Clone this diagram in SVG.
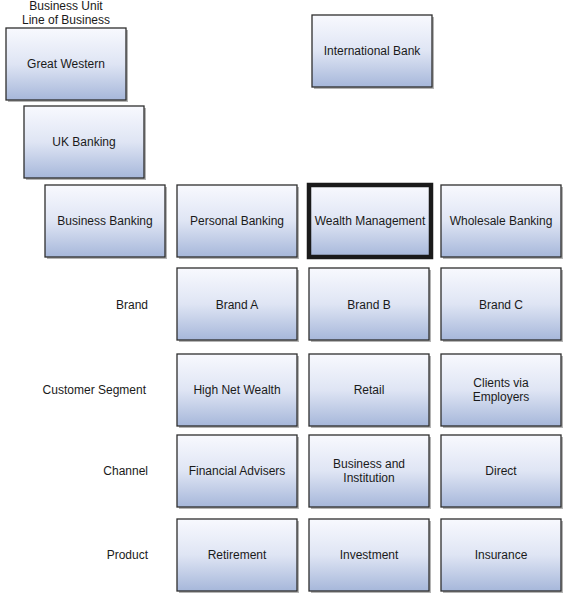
<svg xmlns="http://www.w3.org/2000/svg" width="566" height="596" viewBox="0 0 566 596">
<defs>
<linearGradient id="g" x1="0" y1="0" x2="0" y2="1">
<stop offset="0" stop-color="#f8f9fe"/>
<stop offset="0.5" stop-color="#dfe5f4"/>
<stop offset="1" stop-color="#a6b7da"/>
</linearGradient>
</defs>
<style>
.sh{fill:#b4b4b4}
.bx{fill:url(#g);stroke:#2e2e2e;stroke-width:1.3}
.sel{stroke:#1a1a1a;stroke-width:4.5}
text{font-family:"Liberation Sans",Arial,sans-serif;font-size:12px;fill:#1a1a1a}
.c{text-anchor:middle}
.r{text-anchor:end}
</style>
<rect width="566" height="596" fill="#ffffff"/>
<g id="header">
<text class="c" x="66" y="10">Business Unit</text>
<text class="c" x="66" y="24">Line of Business</text>
</g>
<g id="row-labels">
<text class="r" x="148" y="309">Brand</text>
<text class="r" x="146" y="394">Customer Segment</text>
<text class="r" x="148" y="475">Channel</text>
<text class="r" x="148" y="559">Product</text>
</g>
<g id="connectors"/>
<g id="great-western"><rect class="sh" x="8" y="30" width="120" height="72"/><rect class="bx" x="6" y="28" width="120" height="72"/><text class="c" x="66" y="68">Great Western</text></g>
<g id="uk-banking"><rect class="sh" x="26" y="108" width="120" height="72"/><rect class="bx" x="24" y="106" width="120" height="72"/><text class="c" x="84" y="146">UK Banking</text></g>
<g id="international-bank"><rect class="sh" x="314" y="17" width="120" height="72"/><rect class="bx" x="312" y="15" width="120" height="72"/><text class="c" x="372" y="55">International Bank</text></g>
<g id="business-banking"><rect class="sh" x="47" y="187" width="120" height="72"/><rect class="bx" x="45" y="185" width="120" height="72"/><text class="c" x="105" y="225">Business Banking</text></g>
<g id="personal-banking"><rect class="sh" x="179" y="187" width="120" height="72"/><rect class="bx" x="177" y="185" width="120" height="72"/><text class="c" x="237" y="225">Personal Banking</text></g>
<g id="wealth-management"><rect class="sh" x="311" y="187" width="122" height="72"/><rect class="bx sel" x="309" y="185" width="122" height="72"/><text class="c" x="370" y="225">Wealth Management</text></g>
<g id="wholesale-banking"><rect class="sh" x="443" y="187" width="120" height="72"/><rect class="bx" x="441" y="185" width="120" height="72"/><text class="c" x="501" y="225">Wholesale Banking</text></g>
<g id="brand-a"><rect class="sh" x="179" y="270" width="120" height="72"/><rect class="bx" x="177" y="268" width="120" height="72"/><text class="c" x="237" y="309">Brand A</text></g>
<g id="brand-b"><rect class="sh" x="311" y="270" width="120" height="72"/><rect class="bx" x="309" y="268" width="120" height="72"/><text class="c" x="369" y="309">Brand B</text></g>
<g id="brand-c"><rect class="sh" x="443" y="270" width="120" height="72"/><rect class="bx" x="441" y="268" width="120" height="72"/><text class="c" x="501" y="309">Brand C</text></g>
<g id="high-net-wealth"><rect class="sh" x="179" y="356" width="120" height="72"/><rect class="bx" x="177" y="354" width="120" height="72"/><text class="c" x="237" y="394">High Net Wealth</text></g>
<g id="retail"><rect class="sh" x="311" y="356" width="120" height="72"/><rect class="bx" x="309" y="354" width="120" height="72"/><text class="c" x="369" y="394">Retail</text></g>
<g id="clients-via-employers"><rect class="sh" x="443" y="356" width="120" height="72"/><rect class="bx" x="441" y="354" width="120" height="72"/><text class="c" x="501" y="387">Clients via</text><text class="c" x="501" y="401">Employers</text></g>
<g id="financial-advisers"><rect class="sh" x="179" y="437" width="120" height="72"/><rect class="bx" x="177" y="435" width="120" height="72"/><text class="c" x="237" y="475">Financial Advisers</text></g>
<g id="business-and-institution"><rect class="sh" x="311" y="437" width="120" height="72"/><rect class="bx" x="309" y="435" width="120" height="72"/><text class="c" x="369" y="468">Business and</text><text class="c" x="369" y="482">Institution</text></g>
<g id="direct"><rect class="sh" x="443" y="437" width="120" height="72"/><rect class="bx" x="441" y="435" width="120" height="72"/><text class="c" x="501" y="475">Direct</text></g>
<g id="retirement"><rect class="sh" x="179" y="521" width="120" height="72"/><rect class="bx" x="177" y="519" width="120" height="72"/><text class="c" x="237" y="559">Retirement</text></g>
<g id="investment"><rect class="sh" x="311" y="521" width="120" height="72"/><rect class="bx" x="309" y="519" width="120" height="72"/><text class="c" x="369" y="559">Investment</text></g>
<g id="insurance"><rect class="sh" x="443" y="521" width="120" height="72"/><rect class="bx" x="441" y="519" width="120" height="72"/><text class="c" x="501" y="559">Insurance</text></g>
</svg>
